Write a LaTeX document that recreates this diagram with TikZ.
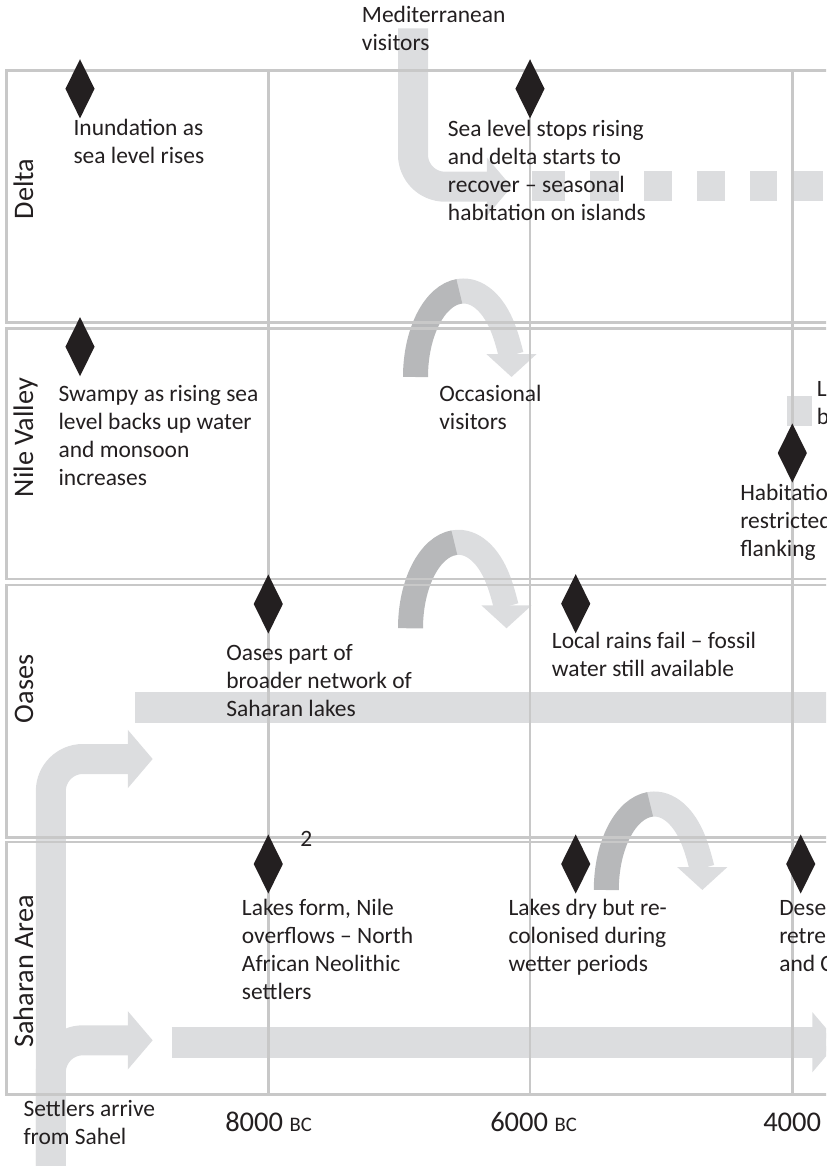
\documentclass[tikz,border=0pt]{standalone}
\usepackage{fontspec}
\setmainfont{Carlito}
\usetikzlibrary{arrows.meta, shapes.geometric}
\definecolor{nlgrid}{RGB}{200, 200, 200}
\definecolor{nlflow}{RGB}{220, 221, 223}
\definecolor{nlshade}{RGB}{183, 184, 186}
\definecolor{nlink}{RGB}{35, 31, 32}

\begin{document}
\begin{tikzpicture}[x=0.75pt, y=-0.75pt,
  every node/.style={font=\fontsize{17.6}{21}\selectfont, text=nlink},
  note/.style={anchor=base west, align=left, inner sep=0pt},
  event/.style={diamond, fill=nlink, inner sep=0pt,
                minimum width=22pt, minimum height=44.5pt},
  zone/.style={rotate=90, anchor=base, inner sep=0pt,
               font=\fontsize{21.2}{25}\selectfont},
  year/.style={anchor=base west, inner sep=0pt,
               font=\fontsize{21.4}{25}\selectfont},
  band/.style={draw=nlgrid, line width=2pt},
  flow/.style={nlflow, line width=22.5pt, rounded corners=24pt,
               -{Triangle[length=0pt 0.83, width=0pt 1.9]}},
  hop/.style={line width=18.75pt}]
  \useasboundingbox (0,0) rectangle (832,1166);
  \clip (0,0) rectangle (826,1166);

  % Migration arrows (behind the grid)
  \draw[flow] (413, 28.3) -- (413, 186.7) -- (511.7, 186.7);
  \foreach \sa/\sb in {531.7/565, 590/619, 644/672.3, 696.7/725, 750/776.7, 794/823.3}
    \fill[nlflow] (\sa, 171.3) rectangle (\sb, 200.9);
  \fill[nlflow] (787, 396) rectangle (812, 426);
  \fill[nlflow] (135, 692) rectangle (840, 723);
  \draw[flow] (50.85, 1180) -- (50.85, 759) -- (152.7, 759);
  \draw[flow] (50.85, 1180) -- (50.85, 1040.3) -- (152.7, 1040.3);
  \draw[flow, line width=23.25pt] (171.7, 1042.2) -- (838, 1042.2);

  % Visiting arches
  \foreach \ax/\ay in {415.5/377, 410.5/628.3, 606.3/890} {
    \draw[hop, nlflow, -{Triangle[length=0pt 0.92, width=0pt 1.96]}]
      (\ax+48, \ay) ++(262:48 and 86)
      arc[start angle=262, end angle=360, x radius=48, y radius=86];
    \draw[hop, nlshade] (\ax, \ay)
      arc[start angle=180, end angle=265, x radius=48, y radius=86];
  }

  % Region bands and time lines
  \foreach \bt/\bb in {70.7/322.7, 328.3/579, 585/837.3, 842/1094.3}
    \draw[band] (6.7, \bt) rectangle (845, \bb);
  \foreach \gx in {268.3, 530, 792.3}
    \draw[band] (\gx, 70.7) -- (\gx, 1094.3);

  % Region names
  \node[zone] (delta) at (33, 189) {Delta};
  \node[zone] (nile) at (33, 437.5) {Nile Valley};
  \node[zone] (oases) at (33, 689) {Oases};
  \node[zone] (sahara) at (33, 971.5) {Saharan Area};

  % Events
  \node[event] (ev1) at (80, 88.8) {};
  \node[event] (ev2) at (530, 88.8) {};
  \node[event] (ev3) at (80, 346.7) {};
  \node[event] (ev4) at (792.3, 453) {};
  \node[event] (ev5) at (268.3, 604) {};
  \node[event] (ev6) at (575.7, 603.7) {};
  \node[event] (ev7) at (268.3, 864) {};
  \node[event] (ev8) at (575.7, 864) {};
  \node[event] (ev9) at (800.7, 864) {};

  % Notes (placed at the baseline of their last line)
  \node[note] (medit) at (361.7, 50.7) {Mediterranean\\visitors};
  \node[note] (inund) at (73.3, 164) {Inundation as\\sea level rises};
  \node[note] (sealvl) at (447.7, 220.5) {Sea level stops rising\\and delta starts to\\recover -- seasonal\\habitation on islands};
  \node[note] (swampy) at (58.3, 485) {Swampy as rising sea\\level backs up water\\and monsoon\\increases};
  \node[note] (occas) at (439, 429) {Occasional\\visitors};
  \node[note] (lcut) at (816.7, 424) {L\\b};
  \node[note] (habit) at (740, 556) {Habitation\\restricted\\flanking};
  \node[note] (netw) at (226, 716.7) {Oases part of\\broader network of\\Saharan lakes};
  \node[note] (rains) at (551.7, 676.3) {Local rains fail -- fossil\\water still available};
  \node[note] (fn2) at (300, 846.7) {2};
  \node[note] (lform) at (241.7, 999) {Lakes form, Nile\\overflows -- North\\African Neolithic\\settlers};
  \node[note] (ldry) at (508.3, 971) {Lakes dry but re-\\colonised during\\wetter periods};
  \node[note] (dcut) at (779, 971) {Dese\\retre\\and C};
  \node[note] (sahel) at (23.3, 1144.7) {Settlers arrive\\from Sahel};

  % Time axis
  \node[year] (y8000) at (225, 1131.7) {8000 {\fontsize{15.5}{18}\selectfont BC}};
  \node[year] (y6000) at (490, 1131.7) {6000 {\fontsize{15.5}{18}\selectfont BC}};
  \node[year] (y4000) at (763, 1131.7) {4000 {\fontsize{15.5}{18}\selectfont BC}};
\end{tikzpicture}
\end{document}
